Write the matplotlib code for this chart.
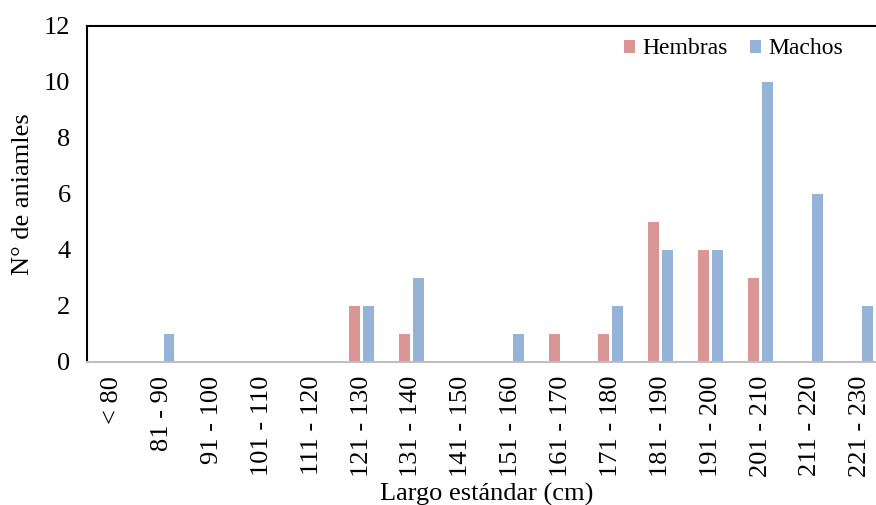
import matplotlib
matplotlib.use("Agg")
import matplotlib.pyplot as plt
import numpy as np

categories = ["< 80", "81 - 90", "91 - 100", "101 - 110", "111 - 120", "121 - 130",
              "131 - 140", "141 - 150", "151 - 160", "161 - 170", "171 - 180",
              "181 - 190", "191 - 200", "201 - 210", "211 - 220", "221 - 230"]
hembras = [0, 0, 0, 0, 0, 2, 1, 0, 0, 1, 1, 5, 4, 3, 0, 0]
machos = [0, 1, 0, 0, 0, 2, 3, 0, 1, 0, 2, 4, 4, 10, 6, 2]

plt.rcParams['font.family'] = ['Liberation Serif', 'DejaVu Serif']
fs = 19

fig = plt.figure(figsize=(8.76, 5.05), dpi=100)
left, right, top, bottom = 87.2, 885.2, 25.5, 362
ax = fig.add_axes([left/876, 1 - bottom/505, (right - left)/876, (bottom - top)/505])

x = np.arange(len(categories))
w = 0.22
ax.bar(x - 0.14, hembras, w, color='#D99694', label='Hembras')
ax.bar(x + 0.14, machos, w, color='#95B3D7', label='Machos')

ax.set_xlim(-0.5, len(categories) - 0.5)
ax.set_ylim(0, 12)
ax.set_yticks(range(0, 13, 2))
ax.set_xticks(x)
ax.set_xticklabels(categories, rotation=90)
ax.tick_params(axis='both', length=0, labelsize=fs)
ax.tick_params(axis='y', pad=12)
ax.tick_params(axis='x', pad=10)

for s in ['left', 'top']:
    ax.spines[s].set_color('black')
    ax.spines[s].set_linewidth(1.5)
ax.spines['right'].set_visible(False)
ax.spines['bottom'].set_color('#BFBFBF')
ax.spines['bottom'].set_linewidth(1.5)

ax.set_xlabel('Largo estándar (cm)', fontsize=fs, labelpad=4)
ax.set_ylabel('N° de aniamles', fontsize=fs, labelpad=7)

ax.legend(loc='center right', bbox_to_anchor=(855/876, 1 - 49/505),
          bbox_transform=fig.transFigure, ncol=2, frameon=False, borderpad=0,
          handlelength=0.47, handleheight=0.47, handletextpad=0.3, columnspacing=0.95,
          fontsize=17)

fig.savefig('out.png', dpi=100)
